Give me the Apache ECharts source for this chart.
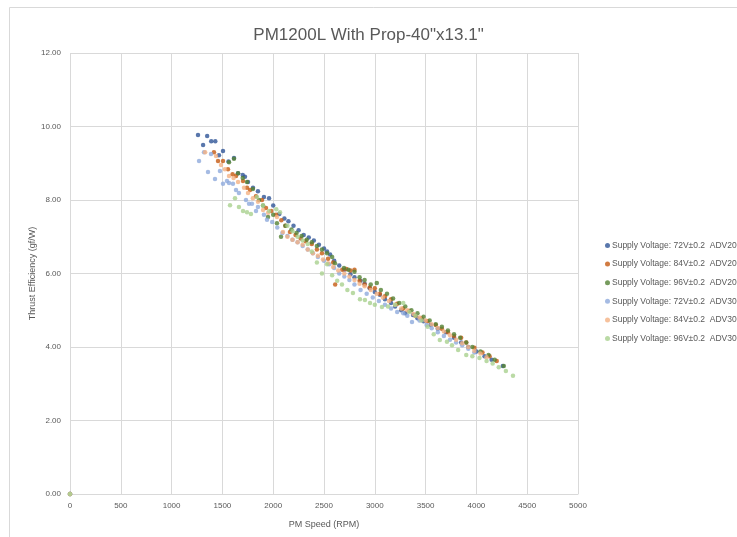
<!DOCTYPE html>
<html>
<head>
<meta charset="utf-8">
<script src="https://cdn.jsdelivr.net/npm/echarts@6/dist/echarts.min.js"></script>
<style>
  html, body { margin: 0; padding: 0; background: #fff; }
  #chart { width: 737px; height: 537px; }
</style>
</head>
<body>
<div id="chart"></div>
<script>
// series names as shown in the legend
var seriesNames = [
    "Supply Voltage: 72V\u00b10.2  ADV20",
    "Supply Voltage: 84V\u00b10.2  ADV20",
    "Supply Voltage: 96V\u00b10.2  ADV20",
    "Supply Voltage: 72V\u00b10.2  ADV30",
    "Supply Voltage: 84V\u00b10.2  ADV30",
    "Supply Voltage: 96V\u00b10.2  ADV30"
];
var seriesColors = ["#2f5597", "#c55a11", "#548235", "#8faadc", "#f4b183", "#a9d18e"];

// [rpm, gf/W]
var v72adv2 = [[0,0],[1260,9.77],[1310,9.5],[1350,9.74],[1390,9.6],[1430,9.6],[1466,9.22],[1506,9.33],[1560,9.05],[1614,9.14],
    [1654,8.73],[1700,8.68],[1722,8.63],[1752,8.49],[1801,8.33],[1850,8.24],[1909,8.08],[1959,8.05],[2000,7.85],[2060,7.62],
    [2110,7.5],[2150,7.42],[2200,7.3],[2250,7.18],[2300,7.05],[2350,6.98],[2400,6.9],[2450,6.78],[2500,6.68],[2530,6.6],
    [2560,6.52],[2600,6.35],[2650,6.22],[2700,6.1],[2760,5.98],[2800,5.9],[2860,5.8],[2900,5.72],[2950,5.6],[3000,5.5],
    [3050,5.42],[3100,5.3],[3160,5.2],[3200,5.1],[3260,5.0],[3300,4.92],[3376,4.87],[3420,4.78],[3480,4.7],[3550,4.6],
    [3620,4.5],[3700,4.4],[3780,4.25],[3850,4.12],[3920,4.0],[4000,3.88],[4080,3.75],[4150,3.65],[4260,3.48]];
var v84adv2 = [[0,0],[1417,9.3],[1457,9.06],[1506,9.06],[1555,8.84],[1600,8.7],[1634,8.65],[1703,8.52],[1742,8.33],[1772,8.27],
    [1830,8.1],[1890,8.0],[1929,7.78],[1980,7.7],[2028,7.6],[2080,7.45],[2120,7.3],[2165,7.13],[2220,7.05],[2270,6.95],
    [2320,6.88],[2380,6.8],[2430,6.65],[2480,6.55],[2540,6.4],[2590,6.3],[2610,5.7],[2680,6.1],[2720,6.12],[2760,6.08],
    [2800,6.1],[2850,5.8],[2900,5.7],[2950,5.62],[3000,5.6],[3050,5.45],[3100,5.38],[3160,5.3],[3220,5.18],[3280,5.05],
    [3340,4.98],[3400,4.85],[3460,4.78],[3520,4.7],[3600,4.6],[3660,4.5],[3720,4.4],[3780,4.3],[3850,4.25],[3900,4.12],
    [3980,3.98],[4060,3.85],[4130,3.75],[4200,3.62]];
var v96adv2 = [[0,0],[1565,9.03],[1614,9.12],[1654,8.73],[1700,8.6],[1742,8.49],[1800,8.3],[1860,8.0],[1900,7.85],[1949,7.54],
    [2000,7.6],[2037,7.37],[2077,7.0],[2120,7.3],[2180,7.2],[2230,7.1],[2280,7.02],[2330,6.92],[2380,6.85],[2430,6.75],
    [2480,6.65],[2530,6.55],[2580,6.45],[2608,6.28],[2697,6.15],[2740,6.1],[2800,6.05],[2850,5.9],[2900,5.82],[2960,5.7],
    [3020,5.74],[3060,5.55],[3120,5.45],[3180,5.32],[3240,5.2],[3300,5.1],[3360,5.0],[3420,4.92],[3480,4.82],[3540,4.72],
    [3600,4.62],[3660,4.55],[3720,4.45],[3780,4.35],[3840,4.25],[3900,4.12],[3960,4.0],[4040,3.88],[4120,3.78],[4180,3.65],
    [4270,3.48]];
var v72adv3 = [[0,0],[1270,9.06],[1319,9.3],[1358,8.76],[1388,9.25],[1427,8.57],[1476,8.79],[1506,8.44],[1545,8.52],[1565,8.46],
    [1604,8.44],[1634,8.27],[1663,8.19],[1732,8.0],[1762,7.9],[1791,7.9],[1831,7.7],[1850,7.81],[1909,7.6],[1939,7.46],
    [1990,7.4],[2040,7.25],[2090,7.1],[2140,7.02],[2190,6.92],[2240,6.85],[2290,6.75],[2340,6.65],[2390,6.55],[2440,6.45],
    [2500,6.35],[2550,6.25],[2600,6.15],[2650,6.0],[2700,5.92],[2750,5.82],[2800,5.7],[2860,5.55],[2920,5.45],[2980,5.35],
    [3040,5.25],[3100,5.15],[3160,5.05],[3220,4.95],[3280,4.92],[3320,4.85],[3366,4.68],[3440,4.72],[3510,4.6],[3560,4.51],
    [3620,4.4],[3680,4.3],[3740,4.2],[3800,4.12],[3860,4.05],[3920,3.95],[3980,3.85]];
var v84adv3 = [[0,0],[1330,9.3],[1437,9.2],[1486,8.95],[1525,8.84],[1565,8.65],[1610,8.6],[1654,8.49],[1713,8.33],[1752,8.19],
    [1800,8.05],[1850,7.95],[1900,7.73],[1950,7.65],[2037,7.54],[2096,7.13],[2140,7.0],[2190,6.92],[2240,6.85],[2290,6.78],
    [2340,6.65],[2390,6.55],[2440,6.48],[2490,6.38],[2540,6.28],[2590,6.18],[2640,6.08],[2700,6.0],[2750,5.92],[2800,5.82],
    [2850,5.72],[2900,5.65],[2960,5.55],[3020,5.45],[3080,5.35],[3140,5.25],[3200,5.15],[3260,5.05],[3320,5.0],[3380,4.9],
    [3440,4.8],[3500,4.72],[3560,4.62],[3620,4.52],[3680,4.42],[3740,4.32],[3800,4.2],[3860,4.1],[3920,4.0],[3980,3.9],
    [4040,3.82],[4100,3.72]];
var v96adv3 = [[0,0],[1575,7.86],[1624,8.05],[1663,7.81],[1703,7.7],[1742,7.67],[1781,7.62],[1840,8.08],[1900,7.85],[1960,7.7],
    [2030,7.75],[2067,7.67],[2140,7.3],[2190,7.15],[2240,7.0],[2290,6.9],[2340,6.8],[2380,6.6],[2430,6.3],[2480,6.0],
    [2530,6.25],[2580,5.95],[2630,5.8],[2677,5.7],[2730,5.55],[2785,5.47],[2854,5.3],[2903,5.28],[2953,5.2],[3000,5.15],
    [3070,5.09],[3130,5.1],[3200,5.15],[3280,5.2],[3340,4.95],[3400,4.85],[3460,4.72],[3520,4.55],[3580,4.35],[3640,4.19],
    [3710,4.14],[3760,4.05],[3820,3.92],[3900,3.78],[3960,3.75],[4030,3.7],[4100,3.62],[4160,3.55],[4220,3.45],[4290,3.35],
    [4360,3.22]];

var allData = [v72adv2, v84adv2, v96adv2, v72adv3, v84adv3, v96adv3];

var xTicks = [0, 500, 1000, 1500, 2000, 2500, 3000, 3500, 4000, 4500, 5000];
var yTicks = [0, 2, 4, 6, 8, 10, 12];

var font = "'Liberation Sans', Arial, sans-serif";
var textColor = "#595959";

var chart = echarts.init(document.getElementById("chart"), null, { renderer: "canvas" });

var series = allData.map(function (d, i) {
    return {
        name: seriesNames[i],
        type: "scatter",
        data: d,
        symbol: "circle",
        symbolSize: 4.5,
        itemStyle: { color: seriesColors[i] },
        emphasis: { disabled: true },
        animation: false
    };
});

chart.setOption({
    backgroundColor: "#fff",
    animation: false,
    graphic: [{
        type: "rect",
        shape: { x: 9.5, y: 7.5, width: 760, height: 560 },
        style: { fill: "none", stroke: "#d9d9d9", lineWidth: 1 },
        silent: true,
        z: -1
    }],
    title: {
        text: 'PM1200L With Prop-40"x13.1"',
        left: "center",
        top: 22,
        textStyle: { fontFamily: font, fontSize: 17, fontWeight: "normal", color: textColor }
    },
    legend: {
        orient: "vertical",
        left: 600,
        top: 236,
        itemWidth: 5,
        itemHeight: 5,
        itemGap: 9.6,
        icon: "circle",
        textStyle: { fontFamily: font, fontSize: 8.5, color: textColor, padding: [0, 0, 0, -3] },
        data: seriesNames
    },
    grid: { left: 70, top: 53, right: 159, bottom: 43 },
    xAxis: {
        type: "value",
        min: xTicks[0],
        max: xTicks[xTicks.length - 1],
        interval: 500,
        name: "PM Speed (RPM)",
        nameLocation: "middle",
        nameGap: 26,
        nameTextStyle: { fontFamily: font, fontSize: 9, color: textColor },
        axisLine: { lineStyle: { color: "#d9d9d9" } },
        axisTick: { show: false },
        axisLabel: {
            fontFamily: font, fontSize: 8, color: textColor, margin: 8,
            formatter: function (v) { return String(v); }
        },
        splitLine: { lineStyle: { color: "#d9d9d9" } }
    },
    yAxis: {
        type: "value",
        min: yTicks[0],
        max: yTicks[yTicks.length - 1],
        interval: 2,
        name: "Thrust Efficiency (gf/W)",
        nameLocation: "middle",
        nameRotate: 90,
        nameGap: 33,
        nameMoveOverlap: false,
        nameTextStyle: { fontFamily: font, fontSize: 9, color: textColor },
        axisLine: { show: false },
        axisTick: { show: false },
        axisLabel: {
            fontFamily: font, fontSize: 8, color: textColor, margin: 9,
            formatter: function (v) { return v.toFixed(2); }
        },
        splitLine: { lineStyle: { color: "#d9d9d9" } }
    },
    series: series
});
</script>
</body>
</html>
